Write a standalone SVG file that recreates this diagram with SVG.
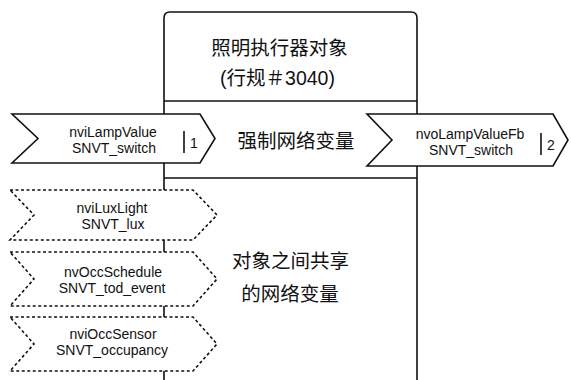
<svg xmlns="http://www.w3.org/2000/svg" width="571" height="380" viewBox="0 0 571 380">
<style>
.ln{fill:none;stroke:#111;stroke-width:1.6}
.sol{fill:#fff;stroke:#111;stroke-width:1.6;stroke-linejoin:miter}
.dsh{fill:#fff;stroke:#111;stroke-width:1.6;stroke-dasharray:3 2.5}
.lbl{font-family:"Liberation Sans",Arial,sans-serif;font-size:14px;fill:#111;text-anchor:middle}
.num{font-family:"Liberation Sans",Arial,sans-serif;font-size:14px;fill:#111}
.cn{font-family:"Liberation Sans","Noto Sans CJK SC",sans-serif;font-size:19.5px;fill:#111;text-anchor:middle}
</style>
<rect width="571" height="380" fill="#fff"/>
<g id="object-box">
<path class="ln" d="M164,380 V18 Q164,12 170,12 H411 Q417,12 417,18 V380"/>
<line class="ln" x1="164" y1="101" x2="417" y2="101"/>
<line class="ln" x1="164" y1="178" x2="417" y2="178"/>
<text class="cn" x="279.5" y="55">照明执行器对象</text>
<text class="cn" x="277.5" y="85">(行规＃3040)</text>
</g>
<g id="mandatory-label">
<text class="cn" x="296" y="148">强制网络变量</text>
</g>
<g id="shared-label">
<text class="cn" x="290.5" y="268">对象之间共享</text>
<text class="cn" x="290" y="301">的网络变量</text>
</g>
<g id="nviLampValue">
<polygon class="sol" points="12,114 200,114 215,138.5 200,163 12,163 38,138.5"/>
<text class="lbl" x="113" y="137">nviLampValue</text>
<text class="lbl" x="114" y="153">SNVT_switch</text>
<line class="ln" x1="184" y1="131" x2="184" y2="153"/>
<text class="num" x="190" y="148">1</text>
</g>
<g id="nvoLampValueFb">
<polygon class="sol" points="367,114 553,114 568,140 553,166 367,166 392,140"/>
<text class="lbl" x="470" y="139">nvoLampValueFb</text>
<text class="lbl" x="471" y="155">SNVT_switch</text>
<line class="ln" x1="541" y1="133" x2="541" y2="155"/>
<text class="num" x="547" y="150">2</text>
</g>
<g id="nviLuxLight">
<polygon class="dsh" points="10,190 193,190 217,215 193,240 10,240 34,215"/>
<text class="lbl" x="112" y="213">nviLuxLight</text>
<text class="lbl" x="113" y="229">SNVT_lux</text>
</g>
<g id="nvOccSchedule">
<polygon class="dsh" points="10,252 193,252 217,279 193,306 10,306 34,279"/>
<text class="lbl" x="113" y="277">nvOccSchedule</text>
<text class="lbl" x="112" y="293">SNVT_tod_event</text>
</g>
<g id="nviOccSensor">
<polygon class="dsh" points="10,317 193,317 217,344 193,371 10,371 34,344"/>
<text class="lbl" x="113" y="339">nviOccSensor</text>
<text class="lbl" x="112" y="355">SNVT_occupancy</text>
</g>
</svg>
